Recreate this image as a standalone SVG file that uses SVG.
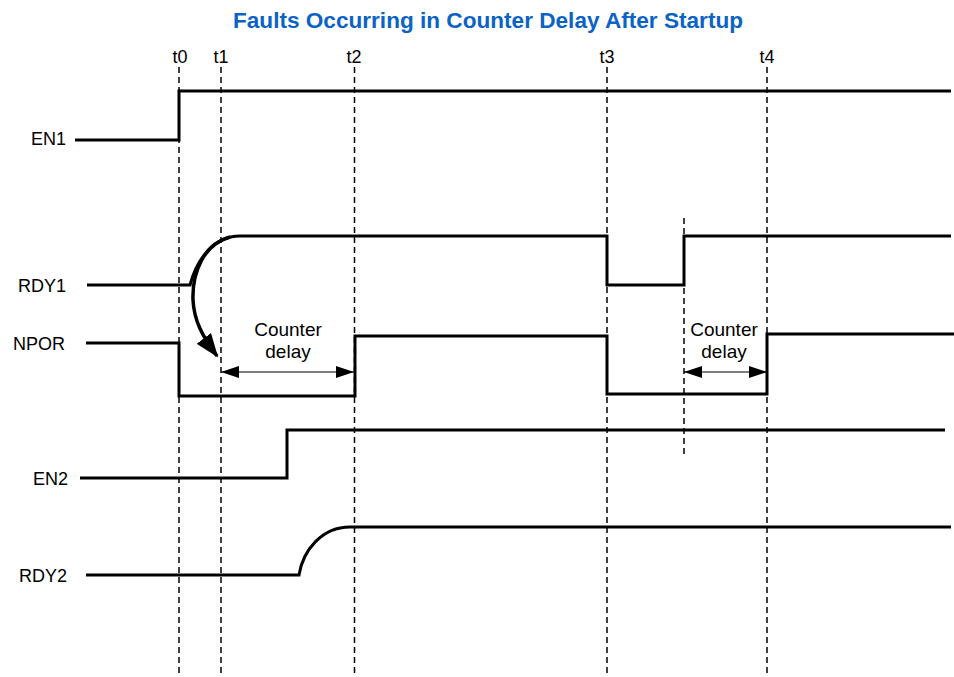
<svg xmlns="http://www.w3.org/2000/svg" width="954" height="677" viewBox="0 0 954 677">
<style>
.sig{fill:none;stroke:#000;stroke-width:3;stroke-linejoin:miter}
.guide{fill:none;stroke:#000;stroke-width:1.5;stroke-dasharray:6 4}
.lbl{font-family:"Liberation Sans",Arial,sans-serif;font-size:18px;fill:#000}
.tl{font-family:"Liberation Sans",Arial,sans-serif;font-size:18px;fill:#000;text-anchor:middle}
.cd{font-family:"Liberation Sans",Arial,sans-serif;font-size:19px;fill:#000;text-anchor:middle}
.dim{fill:none;stroke:#000;stroke-width:1.2}
.title{font-family:"Liberation Sans",Arial,sans-serif;font-size:22px;font-weight:bold;fill:#0b63c6;text-anchor:middle}
</style>
<defs>
<marker id="ah" markerUnits="userSpaceOnUse" markerWidth="18" markerHeight="12" refX="18" refY="6" orient="auto-start-reverse" viewBox="0 0 18 12">
<path d="M0,0 L18,6 L0,12 z" fill="#000"/>
</marker>
<marker id="bah" markerUnits="userSpaceOnUse" markerWidth="24" markerHeight="18" refX="22" refY="9" orient="auto" viewBox="0 0 24 18">
<path d="M0,0 L24,9 L0,18 z" fill="#000"/>
</marker>
</defs>
<rect width="954" height="677" fill="#fff"/>
<text class="title" x="488" y="28" textLength="510" lengthAdjust="spacingAndGlyphs">Faults Occurring in Counter Delay After Startup</text>

<g id="guides">
<line class="guide" x1="179" y1="67" x2="179" y2="677"/>
<line class="guide" x1="221" y1="67" x2="221" y2="677"/>
<line class="guide" x1="354.5" y1="67" x2="354.5" y2="677"/>
<line class="guide" x1="607" y1="67" x2="607" y2="677"/>
<line class="guide" x1="767" y1="67" x2="767" y2="677"/>
<line class="guide" x1="684" y1="218" x2="684" y2="458"/>
<text class="tl" x="180" y="63">t0</text>
<text class="tl" x="221" y="63">t1</text>
<text class="tl" x="354" y="63">t2</text>
<text class="tl" x="607" y="63">t3</text>
<text class="tl" x="767" y="63">t4</text>
</g>

<g id="EN1">
<text class="lbl" x="31" y="145">EN1</text>
<path class="sig" d="M75,140 H179 V91 H951"/>
</g>
<g id="RDY1">
<text class="lbl" x="18" y="292">RDY1</text>
<path class="sig" d="M87,285 H190 C196,262 212,236 240,236 H607 V285 H684 V236 H951"/>
</g>
<g id="NPOR">
<text class="lbl" x="13" y="350">NPOR</text>
<path class="sig" d="M86,343 H179 V396 H355 V336 H607 V394 H767 V334 H954"/>
</g>
<g id="EN2">
<text class="lbl" x="33" y="485">EN2</text>
<path class="sig" d="M80,478 H287 V430 H945"/>
</g>
<g id="RDY2">
<text class="lbl" x="19" y="582">RDY2</text>
<path class="sig" d="M86,575 H299 C303,550 322,527 350,527 H951"/>
</g>

<g id="delay1">
<text class="cd" x="288" y="336">Counter</text>
<text class="cd" x="288" y="358">delay</text>
</g>
<g id="delay2">
<text class="cd" x="724" y="336">Counter</text>
<text class="cd" x="724" y="358">delay</text>
</g>

<g id="connectors">
<line class="dim" x1="221" y1="372" x2="354" y2="372" marker-start="url(#ah)" marker-end="url(#ah)"/>
<line class="dim" x1="684" y1="372" x2="767" y2="372" marker-start="url(#ah)" marker-end="url(#ah)"/>
<path d="M230,237 C204,244 192,272 193,300 C194,320 202,336 217,356" fill="none" stroke="#000" stroke-width="3.5" marker-end="url(#bah)"/>
</g>
</svg>
